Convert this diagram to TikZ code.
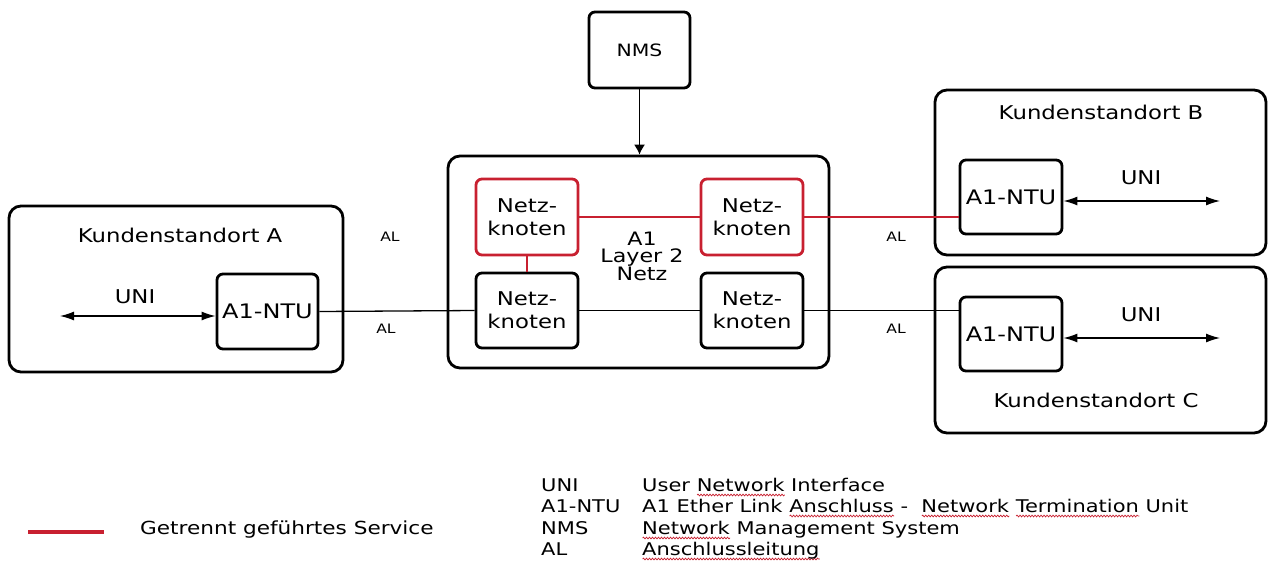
\documentclass[tikz,border=0pt]{standalone}
\usepackage{fontspec}
\setmainfont{DejaVu Sans}[FakeStretch=1.2]
\usetikzlibrary{arrows.meta,decorations.pathmorphing}
\definecolor{svc}{RGB}{200,32,48}
\newbox\wvb
\newdimen\wvd
\newcommand\wv[1]{\setbox\wvb\hbox{#1}\wvd=\wd\wvb\rlap{\tikz[baseline=0pt,x=1pt,y=1pt]\draw[svc,line width=0.7pt,decorate,decoration={snake,amplitude=0.9pt,segment length=3pt}] (0,-4) -- (\wvd,-4);}\box\wvb}
\tikzset{
  site/.style={draw, line width=2.8pt, rounded corners=12pt, inner sep=0pt},
  unit/.style={draw, line width=2.8pt, rounded corners=6pt, inner sep=0pt, align=center, font=\fontsize{19}{23}\selectfont},
  runit/.style={unit, draw=svc},
  lbl/.style={font=\fontsize{19}{20}\selectfont, inner sep=0pt},
  small/.style={font=\fontsize{13}{14}\selectfont, inner sep=0pt},
  con/.style={line width=1.3pt},
  rcon/.style={line width=1.3pt, svc},
  uni/.style={line width=1.3pt, {Latex[length=14pt,width=9pt]}-{Latex[length=14pt,width=9pt]}},
  leg/.style={font=\fontsize{17.5}{18}\selectfont, inner sep=0pt, anchor=base west}
}
\begin{document}
\begin{tikzpicture}[x=1pt,y=-1pt]
\useasboundingbox (0,0) rectangle (1268,563);
% sites
\node[site, minimum width=334, minimum height=166] (sA) at (176,289) {};
\node[site, minimum width=331, minimum height=165] (sB) at (1100.5,172.5) {};
\node[site, minimum width=331, minimum height=166] (sC) at (1100.5,350) {};
\node[site, minimum width=381, minimum height=212] (core) at (638.5,262) {};
% NMS
\node[unit, minimum width=101, minimum height=76, font=\fontsize{17}{18}\selectfont] (nms) at (639.5,50) {NMS};
% NTUs
\node[unit, minimum width=101, minimum height=75, font=\fontsize{20}{23}\selectfont] (ntuA) at (267.5,311.5) {A1-NTU};
\node[unit, minimum width=102, minimum height=74, font=\fontsize{20}{23}\selectfont] (ntuB) at (1011,197) {A1-NTU};
\node[unit, minimum width=102, minimum height=74, font=\fontsize{20}{23}\selectfont] (ntuC) at (1011,334) {A1-NTU};
% Netzknoten
\node[runit, minimum width=102, minimum height=76] (tl) at (527,217) {Netz-\\knoten};
\node[runit, minimum width=102, minimum height=76] (tr) at (752,217) {Netz-\\knoten};
\node[unit, minimum width=102, minimum height=75] (bl) at (527,310.5) {Netz-\\knoten};
\node[unit, minimum width=102, minimum height=75] (br) at (752,310.5) {Netz-\\knoten};
\node[lbl, align=center, font=\fontsize{18.5}{17.5}\selectfont] (l2) at (642,256) {A1\\Layer 2\\Netz};
% labels
\node[lbl] (tA) at (180,235) {Kundenstandort A};
\node[lbl] (tB) at (1101,112) {Kundenstandort B};
\node[lbl] (tC) at (1096,400) {Kundenstandort C};
\node[lbl] (uniA) at (135,297) {UNI};
\node[lbl] (uniB) at (1141,178) {UNI};
\node[lbl] (uniC) at (1141,315) {UNI};
\node[small] (al1) at (390,237) {AL};
\node[small] (al2) at (386,329) {AL};
\node[small] (al3) at (896,237) {AL};
\node[small] (al4) at (896,329) {AL};
% connectors
\draw[con, -{Latex[length=10pt,width=11pt]}] (nms.south) -- (nms.south |- core.north);
\draw[rcon] (tl.east) -- (tr.west);
\draw[rcon] (tl.south) -- (bl.north);
\draw[con] (bl.east) -- (br.west);
\draw[con] (ntuA.east) -- (bl.west);
\draw[rcon] (tr.east) -- (tr.east -| ntuB.west);
\draw[con] (br.east) -- (br.east -| ntuC.west);
\coordinate (eA) at (60,316);
\coordinate (eB) at (1220,201);
\coordinate (eC) at (1220,338);
\draw[uni] (eA) -- (eA -| ntuA.west);
\draw[uni] (eB -| ntuB.east) -- (eB);
\draw[uni] (eC -| ntuC.east) -- (eC);
% legend
\coordinate (lg1) at (28,532);
\coordinate (lg2) at (104,532);
\draw[svc, line width=3.5pt] (lg1) -- (lg2);
\node[leg, font=\fontsize{18}{18}\selectfont] (lgt) at (140,534) {Getrennt geführtes Service};
\node[leg] (k1) at (541,491) {UNI};
\node[leg] (k2) at (541,512) {A1-NTU};
\node[leg] (k3) at (541,534) {NMS};
\node[leg] (k4) at (541,555) {AL};
\node[leg] (v1) at (642,491) {User \wv{Network} Interface};
\node[leg] (v2) at (642,512) {A1 Ether Link \wv{Anschluss} -\ \ \wv{Network} \wv{Termination} Unit};
\node[leg] (v3) at (642,534) {\wv{Network} Management System};
\node[leg] (v4) at (642,555) {\wv{Anschlussleitung}};
\end{tikzpicture}
\end{document}
